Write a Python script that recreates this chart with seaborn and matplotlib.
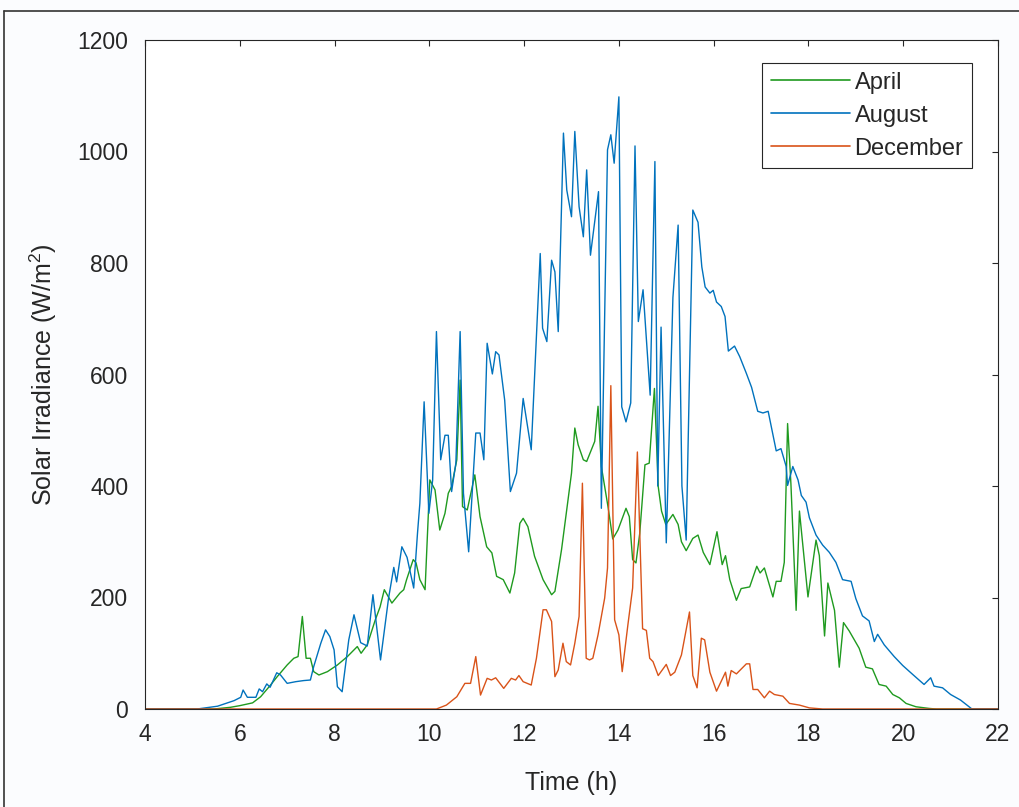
import numpy as np
import pandas as pd
import matplotlib
matplotlib.use('Agg')
import matplotlib.pyplot as plt
import seaborn as sns
from matplotlib.lines import Line2D

# time in hours, irradiance in W/m2
april_t = [4.0, 5.45, 5.8, 6.0, 6.27, 6.44, 6.62, 6.79, 7.0, 7.14, 7.23, 7.32, 7.40, 7.49, 7.56,
           7.67, 7.85, 8.06, 8.27, 8.48, 8.56, 8.69, 8.86, 8.96, 9.05, 9.21, 9.38, 9.46, 9.52,
           9.66, 9.72, 9.80, 9.91, 10.01, 10.12, 10.22, 10.33, 10.40, 10.47, 10.58, 10.65, 10.70,
           10.80, 10.96, 11.07, 11.21, 11.32, 11.42, 11.56, 11.70, 11.80, 11.91, 11.98, 12.08,
           12.22, 12.40, 12.58, 12.65, 12.79, 12.89, 13.0, 13.07, 13.14, 13.25, 13.32, 13.42,
           13.49, 13.56, 13.63, 13.77, 13.87, 13.98, 14.15, 14.22, 14.29, 14.36, 14.44, 14.55,
           14.64, 14.75, 14.83, 14.90, 14.99, 15.14, 15.25, 15.32, 15.42, 15.56, 15.67, 15.78,
           15.92, 16.07, 16.18, 16.25, 16.34, 16.48, 16.58, 16.76, 16.91, 16.98, 17.07, 17.25,
           17.32, 17.42, 17.49, 17.56, 17.63, 17.74, 17.81, 17.99, 18.16, 18.23, 18.34, 18.41,
           18.55, 18.65, 18.74, 18.86, 19.07, 19.21, 19.35, 19.49, 19.64, 19.78, 19.92, 20.06,
           20.27, 20.55, 20.7, 22.0]
april_v = [0, 0, 3, 6, 11, 22, 40, 58, 79, 91, 94, 166, 91, 91, 67,
           61, 67, 79, 94, 112, 100, 115, 160, 183, 214, 190, 208, 214, 232,
           268, 262, 232, 214, 411, 393, 321, 351, 387, 399, 447, 590, 363,
           357, 420, 345, 291, 280, 238, 232, 208, 244, 333, 342, 327,
           274, 232, 205, 211, 286, 351, 423, 504, 474, 447, 444, 465,
           480, 543, 435, 363, 305, 321, 360, 345, 268, 262, 315, 438,
           441, 575, 399, 355, 331, 349, 331, 300, 284, 306, 312, 281,
           259, 318, 259, 275, 232, 195, 216, 219, 256, 244, 253, 201,
           229, 229, 263, 512, 404, 177, 355, 201, 303, 275, 131, 226,
           177, 75, 155, 140, 109, 75, 72, 44, 41, 26, 20, 10,
           4, 1, 0, 0]

august_t = [4.0, 5.1, 5.53, 5.88, 6.02, 6.07, 6.16, 6.34, 6.41, 6.48, 6.57, 6.64, 6.78, 6.86,
            7.0, 7.18, 7.35, 7.49, 7.56, 7.71, 7.81, 7.90, 7.99, 8.06, 8.16, 8.30, 8.41, 8.55,
            8.69, 8.81, 8.97, 9.14, 9.25, 9.31, 9.42, 9.53, 9.67, 9.75, 9.80, 9.89, 9.99, 10.07,
            10.15, 10.24, 10.33, 10.40, 10.47, 10.56, 10.65, 10.72, 10.83, 10.98, 11.07, 11.15,
            11.22, 11.33, 11.40, 11.47, 11.59, 11.71, 11.84, 11.98, 12.15, 12.34, 12.39, 12.48,
            12.58, 12.65, 12.72, 12.83, 12.90, 13.0, 13.07, 13.16, 13.25, 13.32, 13.40, 13.57,
            13.63, 13.76, 13.83, 13.90, 14.0, 14.06, 14.15, 14.25, 14.34, 14.41, 14.51, 14.63,
            14.66, 14.76, 14.82, 14.89, 15.0, 15.14, 15.25, 15.33, 15.42, 15.56, 15.67, 15.75,
            15.82, 15.92, 15.99, 16.06, 16.16, 16.24, 16.31, 16.44, 16.55, 16.69, 16.80, 16.93,
            17.04, 17.15, 17.21, 17.32, 17.42, 17.53, 17.56, 17.67, 17.78, 17.85, 17.95, 18.02,
            18.16, 18.30, 18.44, 18.58, 18.72, 18.90, 19.0, 19.14, 19.28, 19.39, 19.46, 19.60,
            19.81, 19.99, 20.20, 20.44, 20.58, 20.65, 20.83, 21.0, 21.21, 21.39, 21.45, 22.0]
august_v = [0, 0, 5, 15, 21, 34, 21, 21, 36, 31, 45, 39, 65, 61,
            46, 49, 51, 52, 76, 118, 142, 130, 106, 40, 31, 124, 169, 119,
            113, 205, 88, 199, 254, 228, 291, 272, 217, 315, 369, 551, 351, 411,
            677, 447, 491, 491, 390, 441, 677, 387, 282, 495, 495, 447,
            656, 601, 641, 635, 554, 390, 423, 557, 465, 817, 683, 659,
            805, 784, 677, 1033, 931, 883, 1036, 901, 847, 967, 814, 928,
            360, 1003, 1030, 979, 1098, 542, 515, 549, 1010, 695, 752, 603,
            563, 982, 400, 685, 298, 738, 868, 400, 303, 895, 873, 793,
            757, 746, 751, 730, 722, 704, 642, 651, 632, 602, 577, 534,
            531, 534, 509, 463, 467, 435, 401, 435, 411, 383, 371, 343,
            312, 294, 281, 263, 232, 229, 198, 167, 158, 121, 134, 115,
            94, 78, 62, 44, 56, 41, 38, 26, 16, 4, 0, 0]

december_t = [4.0, 10.15, 10.36, 10.58, 10.75, 10.87, 10.98, 11.08, 11.22, 11.31, 11.40, 11.57,
              11.73, 11.82, 11.89, 11.98, 12.15, 12.26, 12.40, 12.47, 12.58, 12.65, 12.72, 12.82,
              12.89, 12.98, 13.07, 13.16, 13.23, 13.31, 13.38, 13.45, 13.56, 13.70, 13.76, 13.83,
              13.91, 14.0, 14.07, 14.19, 14.29, 14.39, 14.50, 14.58, 14.65, 14.72, 14.83, 15.0,
              15.09, 15.18, 15.32, 15.49, 15.56, 15.65, 15.74, 15.81, 15.92, 16.06, 16.25, 16.30,
              16.37, 16.48, 16.69, 16.76, 16.83, 16.93, 17.07, 17.18, 17.28, 17.46, 17.60, 17.81,
              18.02, 18.3, 22.0]
december_v = [0, 0, 7, 22, 46, 46, 94, 25, 55, 52, 56, 37,
              55, 52, 60, 49, 43, 91, 178, 178, 157, 58, 70, 118,
              85, 79, 118, 166, 405, 91, 88, 91, 133, 199, 253, 580,
              160, 133, 67, 151, 217, 461, 144, 141, 91, 85, 60, 80,
              60, 66, 97, 174, 60, 38, 127, 124, 66, 32, 66, 41,
              69, 63, 81, 81, 35, 35, 20, 32, 26, 23, 10, 7,
              2, 0, 0]

months = ['April', 'August', 'December']
colors = {'April': '#1f9a1f', 'August': '#0072BD', 'December': '#D95319'}
x_ticks = [4, 6, 8, 10, 12, 14, 16, 18, 20, 22]
y_ticks = [0, 200, 400, 600, 800, 1000, 1200]


def main():
    sns.set_style('white')
    plt.rcParams['font.family'] = ['Liberation Sans', 'DejaVu Sans']
    plt.rcParams['mathtext.fontset'] = 'custom'
    plt.rcParams['mathtext.rm'] = 'Liberation Sans'
    plt.rcParams['mathtext.it'] = 'Liberation Sans:italic'

    frames = []
    for name, t, v in [('April', april_t, april_v),
                       ('August', august_t, august_v),
                       ('December', december_t, december_v)]:
        frames.append(pd.DataFrame({'Time': t, 'Irradiance': v, 'Month': name}))
    df = pd.concat(frames, ignore_index=True)

    fig = plt.figure(figsize=(10.19, 8.07), dpi=100, facecolor='#fbfcfe')
    ax = fig.add_axes([145 / 1019, 1 - 709 / 807, 853 / 1019, 669 / 807])
    ax.set_facecolor('white')

    sns.lineplot(data=df, x='Time', y='Irradiance', hue='Month', hue_order=months,
                 palette=colors, estimator=None, sort=False, linewidth=1.0, ax=ax)

    ax.set_xlim(4, 22)
    ax.set_ylim(0, 1200)
    ax.set_xticks(x_ticks)
    ax.set_yticks(y_ticks)
    ax.set_xlabel('Time (h)', fontsize=18, color='#262626', labelpad=18)
    ax.set_ylabel('Solar Irradiance (W/m$^2$)', fontsize=18, color='#262626', labelpad=13)
    ax.tick_params(direction='in', length=4.5, width=0.8, colors='#262626',
                   labelsize=16.5, top=True, right=True)
    ax.tick_params(axis='x', pad=10)
    ax.tick_params(axis='y', pad=12)
    for sp in ax.spines.values():
        sp.set_visible(True)
        sp.set_color('#262626')
        sp.set_linewidth(0.8)

    handles, labels = ax.get_legend_handles_labels()
    leg = ax.legend(handles, labels, loc='upper right', bbox_to_anchor=(0.9695, 0.9656),
                    borderaxespad=0, fontsize=17, fancybox=False, framealpha=1,
                    edgecolor='#262626', handlelength=3.35, handletextpad=0.21,
                    labelspacing=0.47, borderpad=0.36)
    leg.get_frame().set_linewidth(0.8)
    for line in leg.get_lines():
        line.set_linewidth(1.2)

    # window frame around the figure
    fig.add_artist(Line2D([4 / 1019, 1], [1 - 11 / 807, 1 - 11 / 807],
                          transform=fig.transFigure, color='#333333', lw=1.2))
    fig.add_artist(Line2D([4 / 1019, 4 / 1019], [0, 1 - 11 / 807],
                          transform=fig.transFigure, color='#333333', lw=1.2))

    fig.savefig('out.png', dpi=100, facecolor=fig.get_facecolor())
    plt.close(fig)


if __name__ == '__main__':
    main()
